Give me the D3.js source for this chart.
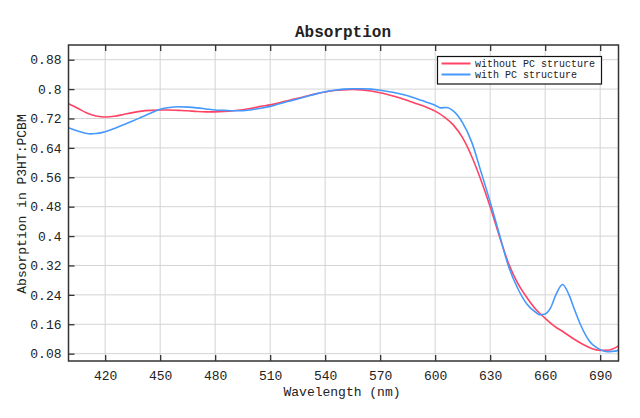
<!DOCTYPE html>
<html>
<head>
<meta charset="utf-8">
<script src="https://cdn.jsdelivr.net/npm/d3@7"></script>
<style>
  body { margin: 0; background: #fff; }
  text { font-family: "Liberation Mono", "DejaVu Sans Mono", monospace; fill: #222; }
</style>
</head>
<body>
<div id="chart"><svg width="640" height="418"></svg></div>
<script>
// wavelength (nm) and absorption values
const withoutNm = [400, 405, 410, 415, 420, 425, 430, 435, 440, 445, 450, 455, 460, 465, 470, 475, 480, 485, 490, 495,
  500, 505, 510, 515, 520, 525, 530, 535, 540, 545, 550, 555, 560, 565, 570, 575, 580, 585, 590, 595,
  600, 605, 610, 615, 620, 625, 630, 635, 640, 645, 650, 655, 660, 665, 670, 675, 680, 685, 690, 695, 700];
const withoutVal = [0.760, 0.748, 0.735, 0.727, 0.724, 0.726, 0.731, 0.736, 0.740, 0.742, 0.743, 0.743, 0.742, 0.741, 0.739, 0.738, 0.738, 0.739, 0.741, 0.744,
  0.748, 0.753, 0.757, 0.763, 0.769, 0.775, 0.781, 0.787, 0.792, 0.796, 0.798, 0.799, 0.798, 0.795, 0.790, 0.784, 0.777, 0.769, 0.760, 0.751,
  0.740, 0.724, 0.702, 0.667, 0.616, 0.552, 0.480, 0.400, 0.326, 0.272, 0.233, 0.200, 0.176, 0.155, 0.139, 0.122, 0.107, 0.095, 0.089, 0.090, 0.101];

const withNm = [400, 405, 410, 412, 415, 420, 425, 430, 435, 440, 445, 450, 455, 460, 465, 470, 475, 480, 485, 490, 495,
  500, 505, 510, 515, 520, 525, 530, 535, 540, 545, 550, 555, 560, 565, 570, 575, 580, 585, 590, 595,
  600, 603, 606, 610, 615, 620, 625, 630, 635, 640, 645, 650, 655, 657, 660, 663, 666, 669.5, 673, 676, 679, 684, 690, 694, 700];
const withVal = [0.695, 0.686, 0.679, 0.678, 0.679, 0.684, 0.693, 0.703, 0.713, 0.724, 0.735, 0.745, 0.750, 0.752, 0.751, 0.749, 0.746, 0.743, 0.742, 0.741, 0.741,
  0.744, 0.748, 0.753, 0.760, 0.767, 0.773, 0.780, 0.787, 0.793, 0.797, 0.800, 0.801, 0.801, 0.800, 0.797, 0.793, 0.788, 0.782, 0.774, 0.765,
  0.756, 0.749, 0.750, 0.740, 0.708, 0.655, 0.575, 0.493, 0.405, 0.318, 0.258, 0.215, 0.192, 0.186, 0.188, 0.205, 0.242, 0.268, 0.240, 0.200, 0.162, 0.115, 0.091, 0.085, 0.089];

const xTicks = [420, 450, 480, 510, 540, 570, 600, 630, 660, 690];
const yTicks = [0.08, 0.16, 0.24, 0.32, 0.4, 0.48, 0.56, 0.64, 0.72, 0.8, 0.88];
const seriesNames = ["without PC structure", "with PC structure"];
const seriesColors = ["#ff4364", "#4499ff"];

const margin = {left: 68.5, right: 21.5, top: 45, bottom: 57};
const W = 640, H = 418;

const svg = d3.select("#chart svg");
const x = d3.scaleLinear().domain([400, 700]).range([margin.left, W - margin.right]);
const y = d3.scaleLinear().domain([0.06, 0.92]).range([H - margin.bottom, margin.top]);

// grid
const grid = svg.append("g").attr("class", "grid");
grid.selectAll("line.gx").data(xTicks).join("line")
    .attr("x1", d => x(d)).attr("x2", d => x(d))
    .attr("y1", margin.top).attr("y2", H - margin.bottom)
    .attr("stroke", "#d4d4d4").attr("stroke-width", 1);
grid.selectAll("line.gy").data(yTicks).join("line")
    .attr("x1", margin.left).attr("x2", W - margin.right)
    .attr("y1", d => y(d)).attr("y2", d => y(d))
    .attr("stroke", "#d4d4d4").attr("stroke-width", 1);

// axes with inward ticks
const xAxis = svg.append("g")
    .attr("transform", `translate(0, ${H - margin.bottom})`)
    .call(d3.axisBottom(x).tickValues(xTicks).tickSizeInner(-6).tickSizeOuter(0).tickPadding(10));
const xTop = svg.append("g")
    .attr("transform", `translate(0, ${margin.top})`)
    .call(d3.axisTop(x).tickValues(xTicks).tickSizeInner(-6).tickSizeOuter(0).tickFormat(""));
const yAxis = svg.append("g")
    .attr("transform", `translate(${margin.left}, 0)`)
    .call(d3.axisLeft(y).tickValues(yTicks).tickSizeInner(-6).tickSizeOuter(0).tickPadding(7)
        .tickFormat(d => String(+d.toFixed(2))));

[xAxis, xTop, yAxis].forEach(g => {
    g.select(".domain").remove();
    g.selectAll(".tick line").attr("stroke", "#333").attr("stroke-width", 1.3);
    g.selectAll(".tick text").attr("font-size", 13).attr("fill", "#222")
        .attr("font-family", "Liberation Mono, DejaVu Sans Mono, monospace");
});

// lines
const line = d3.line().x(d => x(d[0])).y(d => y(d[1])).curve(d3.curveMonotoneX);
const series = [
    d3.zip(withoutNm, withoutVal),
    d3.zip(withNm, withVal)
];
svg.append("defs").append("clipPath").attr("id", "clip")
    .append("rect").attr("x", margin.left).attr("y", margin.top)
    .attr("width", W - margin.left - margin.right).attr("height", H - margin.top - margin.bottom);
svg.append("g").attr("clip-path", "url(#clip)")
    .selectAll("path").data(series).join("path")
    .attr("d", line)
    .attr("fill", "none")
    .attr("stroke", (d, i) => seriesColors[i])
    .attr("stroke-width", 1.6);

// frame
svg.append("rect")
    .attr("x", margin.left).attr("y", margin.top)
    .attr("width", W - margin.left - margin.right).attr("height", H - margin.top - margin.bottom)
    .attr("fill", "none").attr("stroke", "#333").attr("stroke-width", 1.5);

// legend
const lg = svg.append("g").attr("transform", "translate(437.5, 56.5)");
lg.append("rect").attr("width", 164).attr("height", 27.5)
    .attr("fill", "#fff").attr("stroke", "#111").attr("stroke-width", 1.2);
seriesNames.forEach((name, i) => {
    const yy = 7 + i * 11;
    lg.append("line").attr("x1", 4).attr("x2", 33).attr("y1", yy).attr("y2", yy)
        .attr("stroke", seriesColors[i]).attr("stroke-width", 2);
    lg.append("text").attr("x", 37.5).attr("y", yy + 3.5)
        .attr("font-size", 10).text(name);
});

// titles
svg.append("text").attr("x", 343).attr("y", 37).attr("text-anchor", "middle")
    .attr("font-size", 16).attr("font-weight", "bold").text("Absorption");
svg.append("text").attr("x", 342).attr("y", 396).attr("text-anchor", "middle")
    .attr("font-size", 13).text("Wavelength (nm)");
svg.append("text").attr("transform", "translate(26, 204) rotate(-90)")
    .attr("text-anchor", "middle").attr("font-size", 13).text("Absorption in P3HT:PCBM");
</script>
</body>
</html>
